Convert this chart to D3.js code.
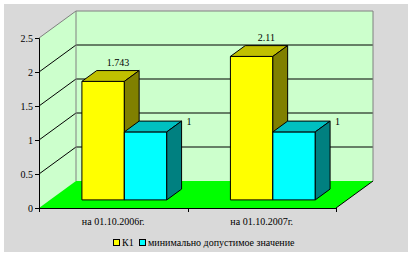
<!DOCTYPE html>
<meta charset="utf-8">
<style>
    body { margin: 0; background: #fff; }
    svg text { font-family: "Times New Roman", "Liberation Serif", "DejaVu Serif", serif !important; font-size: 10px; fill: #000; }
    .grid { stroke: #000; stroke-width: 1px; }
    .frame { stroke: #808080; stroke-width: 1px; fill: none; }
</style>
<body>
<script src="https://d3js.org/d3.v7.min.js"></script>
<script>
    // chart data
    var categories = ["на 01.10.2006г.", "на 01.10.2007г."];
    var seriesNames = ["К1", "минимально допустимое значение"];
    var k1Values = [1.743, 2.11];
    var minValues = [1, 1];
    var valueLabels = [["1.743", "2.11"], ["1", "1"]];
    var yTicks = [0, 0.5, 1, 1.5, 2, 2.5];
    var yTickLabels = ["0", "0.5", "1", "1.5", "2", "2.5"];

    var colors = [
        { front: "#ffff00", top: "#c0c000", side: "#808000" },
        { front: "#00ffff", top: "#00c0c0", side: "#008080" }
    ];

    var W = 413, H = 256;
    var plot = { left: 39, right: 336, bottom: 208, top: 38 };
    var depth = { dx: 37, dy: -27 };

    var svg = d3.select("body").append("svg")
        .attr("width", W)
        .attr("height", H);

    // project a point into the 3d box (d = 0 front, 1 back)
    function p(x, y, d) {
        return [x + depth.dx * d, y + depth.dy * d];
    }
    function poly(pts) {
        return pts.map(function(q) { return q[0] + "," + q[1]; }).join(" ");
    }

    var y = d3.scaleLinear().domain([0, 2.5]).range([plot.bottom, plot.top]);
    var x = d3.scaleBand().domain(categories).range([plot.left, plot.right]);
    var groupW = x.bandwidth() * 2 / 3.5;
    var xs = d3.scaleBand().domain(d3.range(seriesNames.length)).range([0, groupW]);

    // gray chart area
    svg.append("rect")
        .attr("x", 4).attr("y", 4)
        .attr("width", 404).attr("height", 248)
        .attr("fill", "#d9d9d9");

    var y0 = y(0), yT = y(2.5);
    // back wall
    svg.append("polygon")
        .attr("points", poly([p(plot.left, yT, 1), p(plot.right, yT, 1), p(plot.right, y0, 1), p(plot.left, y0, 1)]))
        .attr("fill", "#ccffcc");
    // side wall
    svg.append("polygon")
        .attr("points", poly([p(plot.left, yT, 0), p(plot.left, yT, 1), p(plot.left, y0, 1), p(plot.left, y0, 0)]))
        .attr("fill", "#ccffcc");
    // floor
    svg.append("polygon")
        .attr("points", poly([p(plot.left, y0, 0), p(plot.left, y0, 1), p(plot.right, y0, 1), p(plot.right, y0, 0)]))
        .attr("fill", "#00ff00");

    // gridlines
    yTicks.slice(1, -1).forEach(function(v) {
        var a = p(plot.left, y(v), 0), b = p(plot.left, y(v), 1), c = p(plot.right, y(v), 1);
        svg.append("polyline")
            .attr("class", "grid")
            .attr("fill", "none")
            .attr("points", poly([a, b, c]));
    });

    // wall frame
    svg.append("polyline")
        .attr("class", "frame")
        .attr("points", poly([p(plot.left, yT, 0), p(plot.left, yT, 1), p(plot.right, yT, 1), p(plot.right, y0, 1)]));
    svg.append("line")
        .attr("class", "frame")
        .attr("x1", p(plot.left, yT, 1)[0]).attr("y1", yT + depth.dy)
        .attr("x2", p(plot.left, y0, 1)[0]).attr("y2", y0 + depth.dy);
    svg.append("polyline")
        .attr("fill", "none").attr("stroke", "#000")
        .attr("points", poly([p(plot.right, y0, 0), p(plot.right, y0, 1)]));

    // y axis
    svg.append("g")
        .attr("transform", "translate(" + plot.left + ",0)")
        .call(d3.axisLeft(y).tickValues(yTicks).tickSize(4).tickPadding(2)
            .tickFormat(function(d, i) { return yTickLabels[i]; }))
        .call(function(g) {
            g.attr("font-family", null).attr("font-size", null);
            g.select(".domain").attr("stroke", "#000");
            g.selectAll("text").attr("fill", null);
        });

    // x axis
    svg.append("line")
        .attr("x1", plot.left).attr("x2", plot.right)
        .attr("y1", y0 + 0.5).attr("y2", y0 + 0.5)
        .attr("stroke", "#000");
    var bounds = categories.map(function(c) { return x(c); }).concat([plot.right]);
    svg.selectAll(".xtick").data(bounds).enter().append("line")
        .attr("x1", function(d) { return Math.round(d) + 0.5; })
        .attr("x2", function(d) { return Math.round(d) + 0.5; })
        .attr("y1", y0).attr("y2", y0 + 4)
        .attr("stroke", "#000");
    svg.selectAll(".xlabel").data(categories).enter().append("text")
        .attr("x", function(d) { return x(d) + x.bandwidth() / 2; })
        .attr("y", y0 + 17)
        .attr("text-anchor", "middle")
        .text(function(d) { return d; });

    // bars
    var dFront = 0.3, dBack = 0.7;
    var seriesValues = [k1Values, minValues];
    categories.forEach(function(cat, ci) {
        seriesValues.forEach(function(vals, si) {
            var x0 = x(cat) + (x.bandwidth() - groupW) / 2 + xs(si);
            var x1 = x0 + xs.bandwidth();
            var yb = y(0), yt = y(vals[ci]);
            var col = colors[si];
            var g = svg.append("g").attr("stroke", "#000").attr("stroke-width", 1).attr("stroke-linejoin", "round");
            g.append("polygon")
                .attr("points", poly([p(x0, yt, dFront), p(x1, yt, dFront), p(x1, yb, dFront), p(x0, yb, dFront)]))
                .attr("fill", col.front);
            g.append("polygon")
                .attr("points", poly([p(x0, yt, dFront), p(x0, yt, dBack), p(x1, yt, dBack), p(x1, yt, dFront)]))
                .attr("fill", col.top);
            g.append("polygon")
                .attr("points", poly([p(x1, yt, dFront), p(x1, yt, dBack), p(x1, yb, dBack), p(x1, yb, dFront)]))
                .attr("fill", col.side);

            var bt = p((x0 + x1) / 2, yt, dBack);
            var br = p(x1, yt, dBack);
            if (si === 0) {
                svg.append("text")
                    .attr("x", bt[0])
                    .attr("y", bt[1] - 5)
                    .attr("text-anchor", "middle")
                    .text(valueLabels[si][ci]);
            } else {
                svg.append("text")
                    .attr("x", br[0] + 5)
                    .attr("y", br[1] + 4)
                    .text(valueLabels[si][ci]);
            }
        });
    });

    // legend
    var legendX = [113, 139];
    var legend = svg.append("g");
    seriesNames.forEach(function(name, i) {
        legend.append("rect")
            .attr("x", legendX[i] + 0.5).attr("y", 239.5)
            .attr("width", 6).attr("height", 6)
            .attr("fill", colors[i].front)
            .attr("stroke", "#000");
        legend.append("text")
            .attr("x", legendX[i] + 9)
            .attr("y", 246)
            .text(name);
    });
</script>
</body>
